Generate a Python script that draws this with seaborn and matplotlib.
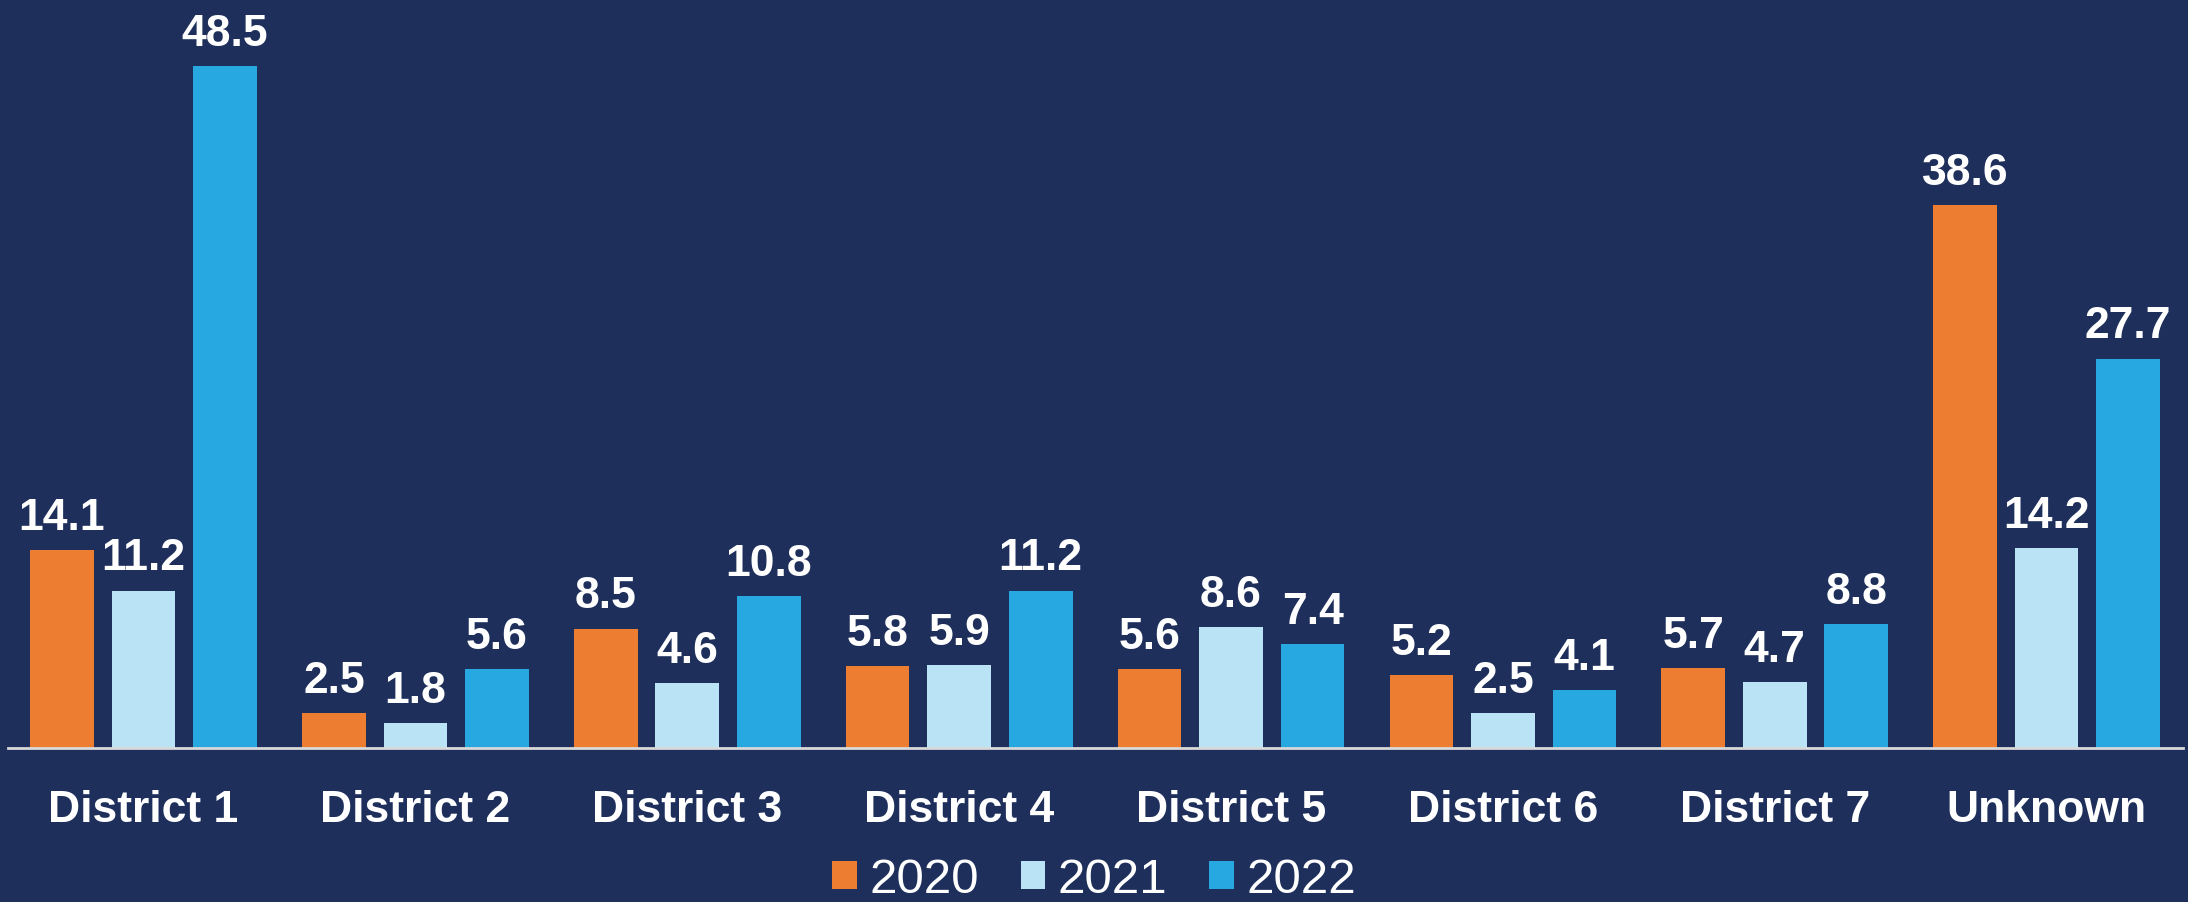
import matplotlib
matplotlib.use("Agg")
import matplotlib.pyplot as plt
import pandas as pd
import seaborn as sns

# chart data
districts = ["District 1", "District 2", "District 3", "District 4",
             "District 5", "District 6", "District 7", "Unknown"]
years = ["2020", "2021", "2022"]
values_2020 = [14.1, 2.5, 8.5, 5.8, 5.6, 5.2, 5.7, 38.6]
values_2021 = [11.2, 1.8, 4.6, 5.9, 8.6, 2.5, 4.7, 14.2]
values_2022 = [48.5, 5.6, 10.8, 11.2, 7.4, 4.1, 8.8, 27.7]

BG = "#1E2F5B"
palette = {"2020": "#ED7D31", "2021": "#BAE3F5", "2022": "#28A8E0"}
FS = 32

df = pd.DataFrame({
    "district": districts * 3,
    "year": [y for y in years for _ in districts],
    "value": values_2020 + values_2021 + values_2022,
})

sns.set_theme(style="white")
plt.rcParams["font.family"] = ["Liberation Sans", "DejaVu Sans"]
plt.rcParams["font.weight"] = "bold"

fig = plt.figure(figsize=(21.88, 9.02), dpi=100, facecolor=BG)
ax = fig.add_axes([0.0035, 0.1707, 0.994, 0.8293])
ax.set_facecolor(BG)

sns.barplot(data=df, x="district", y="value", hue="year", hue_order=years,
            palette=palette, saturation=1, width=0.9, gap=0.22, linewidth=0, ax=ax)

for c in ax.containers:
    ax.bar_label(c, fmt="%.1f", padding=8, color="white", fontsize=FS, fontweight="bold")

ax.set_ylim(0, 53.2)
ax.set_xlim(-0.5, len(districts) - 0.5)
ax.set_xlabel("")
ax.set_ylabel("")
ax.set_yticks([])
ax.tick_params(axis="x", length=0, pad=30, labelsize=FS, labelcolor="white")
for s in ["left", "right", "top"]:
    ax.spines[s].set_visible(False)
ax.spines["bottom"].set_color("#D9D9D9")
ax.spines["bottom"].set_linewidth(2)

# legend text is lighter and a bit larger than the labels
handles, labels = ax.get_legend_handles_labels()
ax.legend_.remove()
fig.legend(handles, labels, loc="center", bbox_to_anchor=(0.5, 0.024), ncol=3,
           frameon=False, labelcolor="white",
           prop={"weight": "normal", "size": 35.5},
           handlelength=0.5, handleheight=0.5, handletextpad=0.25,
           columnspacing=0.85, borderpad=0)

fig.savefig("out.png", dpi=100, facecolor=BG)
